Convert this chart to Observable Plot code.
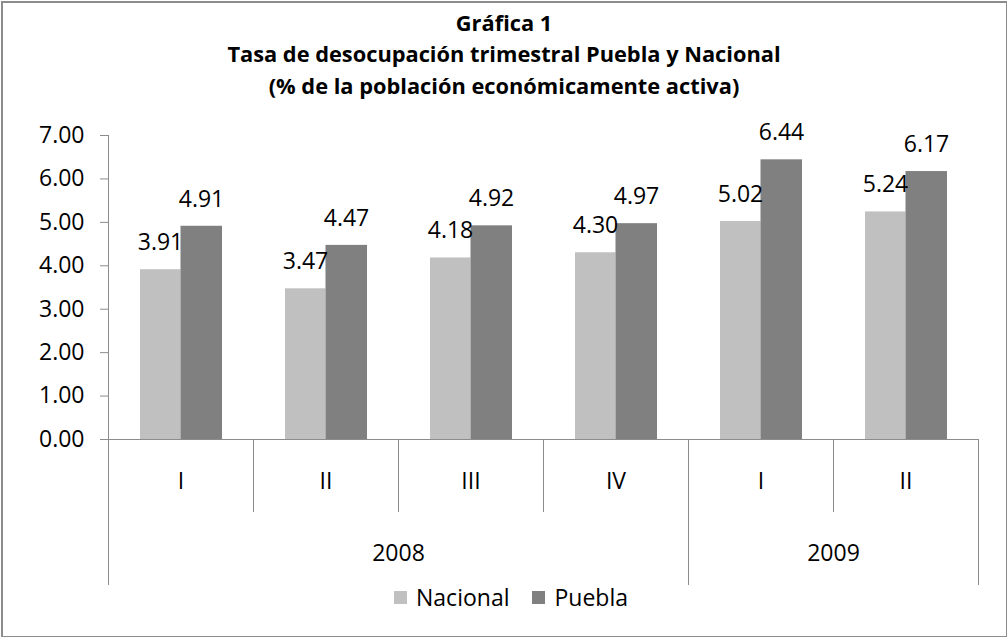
<!DOCTYPE html>
<html>
<head>
<meta charset="utf-8">
<script src="https://cdn.jsdelivr.net/npm/d3@7"></script>
<script src="https://cdn.jsdelivr.net/npm/@observablehq/plot@0.6"></script>
<style>
  body { margin: 0; background: #fff; }
  #wrap { position: relative; width: 1008px; height: 638px; overflow: hidden; font-family: "Open Sans", sans-serif; color: #000; }
  #frame { position: absolute; left: 1px; top: 1px; width: 1006px; height: 636px; box-sizing: border-box;
           border: 2px solid #8c8c8c; border-right-width: 1px; border-bottom-width: 1px; pointer-events: none; }
  #title { position: absolute; left: 0; top: 6.5px; width: 1008px; text-align: center; font-weight: 700;
           font-size: 21.8px; line-height: 31.8px; }
  #chart { position: absolute; left: 0; top: 0; }
  #legend { position: absolute; left: 0; top: 582px; width: 1008px; box-sizing: border-box; padding-left: 14px;
            display: flex; justify-content: center; align-items: center; font-size: 23px; line-height: 30px; }
  #legend .item { display: flex; align-items: center; }
  #legend .sw { width: 13px; height: 13px; margin-right: 9px; }
  #legend .item + .item { margin-left: 23px; }
  svg g[aria-label="y-axis tick"] { stroke: #8c8c8c; }
</style>
</head>
<body>
<div id="wrap">
  <div id="chart"></div>
  <div id="title"></div>
  <div id="legend"></div>
  <div id="frame"></div>
</div>
<script>
// ---- data ----
const titleLines = ["Gráfica 1", "Tasa de desocupación trimestral Puebla y Nacional", "(% de la población económicamente activa)"];
const quarters = ["I", "II", "III", "IV", "I", "II"];
const years = ["2008", "2008", "2008", "2008", "2009", "2009"];
const nacional = [3.91, 3.47, 4.18, 4.30, 5.02, 5.24];
const puebla = [4.91, 4.47, 4.92, 4.97, 6.44, 6.17];
const seriesNames = ["Nacional", "Puebla"];
const seriesColors = ["#c0c0c0", "#808080"];
const yTicks = [0, 1, 2, 3, 4, 5, 6, 7];

// ---- layout ----
const W = 1008, H = 638;
const mL = 108, mR = 30, mT = 135, mB = 199;
const plotH = H - mT - mB;
const keys = quarters.map((q, i) => `${years[i]}-${q}-${i}`);
const bw = (W - mL - mR) / keys.length;
const barW = 41;
const groupPad = (bw - 2 * barW) / 2;

const rows = keys.map((k, i) => ({key: k, quarter: quarters[i], year: years[i], nacional: nacional[i], puebla: puebla[i]}));
const yearStartIdx = keys.map((k, i) => i).filter(i => i === 0 || years[i] !== years[i - 1]);
const innerSep = keys.filter((k, i) => !yearStartIdx.includes(i));
const yearSep = yearStartIdx.filter(i => i > 0).map(i => keys[i]);
const yearGroups = Array.from(d3.group(rows, d => d.year), ([year, g]) => {
  const mid = g[Math.floor(g.length / 2)];
  return {year, key: mid.key, even: g.length % 2 === 0};
});

const fmt = d3.format(".2f");

const chart = Plot.plot({
  width: W, height: H,
  marginLeft: mL, marginRight: mR, marginTop: mT, marginBottom: mB,
  style: {fontFamily: "'Open Sans', sans-serif", fontSize: "23px", color: "#000", background: "transparent", overflow: "visible"},
  x: {domain: keys, padding: 0, axis: null},
  y: {domain: [0, 7], ticks: yTicks, tickFormat: fmt, tickSize: 8, tickPadding: 16, label: null},
  marks: [
    Plot.barY(rows, {x: "key", y: "nacional", fill: seriesColors[0], insetLeft: groupPad + 0.5, insetRight: bw / 2}),
    Plot.barY(rows, {x: "key", y: "puebla", fill: seriesColors[1], insetLeft: bw / 2, insetRight: groupPad - 0.5}),
    Plot.text(rows, {x: "key", y: "nacional", text: d => fmt(d.nacional), dx: -barW / 2, dy: -27, lineAnchor: "middle", fill: "#000"}),
    Plot.text(rows, {x: "key", y: "puebla", text: d => fmt(d.puebla), dx: barW / 2, dy: -27, lineAnchor: "middle", fill: "#000"}),
    // horizontal axis line
    Plot.ruleY([0], {stroke: "#8c8c8c"}),
    // y axis line extended to bottom of year row
    Plot.ruleX([keys[0]], {dx: -bw / 2, stroke: "#8c8c8c", insetBottom: -146}),
    // year separators
    Plot.ruleX(yearSep, {dx: -bw / 2, stroke: "#8c8c8c", insetTop: plotH, insetBottom: -146}),
    Plot.ruleX([keys[keys.length - 1]], {dx: bw / 2, stroke: "#8c8c8c", insetTop: plotH, insetBottom: -146}),
    // quarter separators
    Plot.ruleX(innerSep, {dx: -bw / 2, stroke: "#8c8c8c", insetTop: plotH, insetBottom: -73}),
    // quarter labels
    Plot.text(rows, {x: "key", y: () => 0, text: "quarter", dy: 42, lineAnchor: "middle", fill: "#000"}),
    // year labels
    Plot.text(yearGroups, {x: "key", y: () => 0, text: "year", dx: -bw / 2, dy: 114, lineAnchor: "middle", fill: "#000"})
  ]
});
document.getElementById("chart").appendChild(chart);

// title
const t = document.getElementById("title");
titleLines.forEach(s => { const d = document.createElement("div"); d.textContent = s; t.appendChild(d); });

// legend
const lg = document.getElementById("legend");
seriesNames.forEach((n, i) => {
  const it = document.createElement("div"); it.className = "item";
  const sw = document.createElement("div"); sw.className = "sw"; sw.style.background = seriesColors[i];
  const tx = document.createElement("span"); tx.textContent = n;
  it.appendChild(sw); it.appendChild(tx); lg.appendChild(it);
});
</script>
</body>
</html>
